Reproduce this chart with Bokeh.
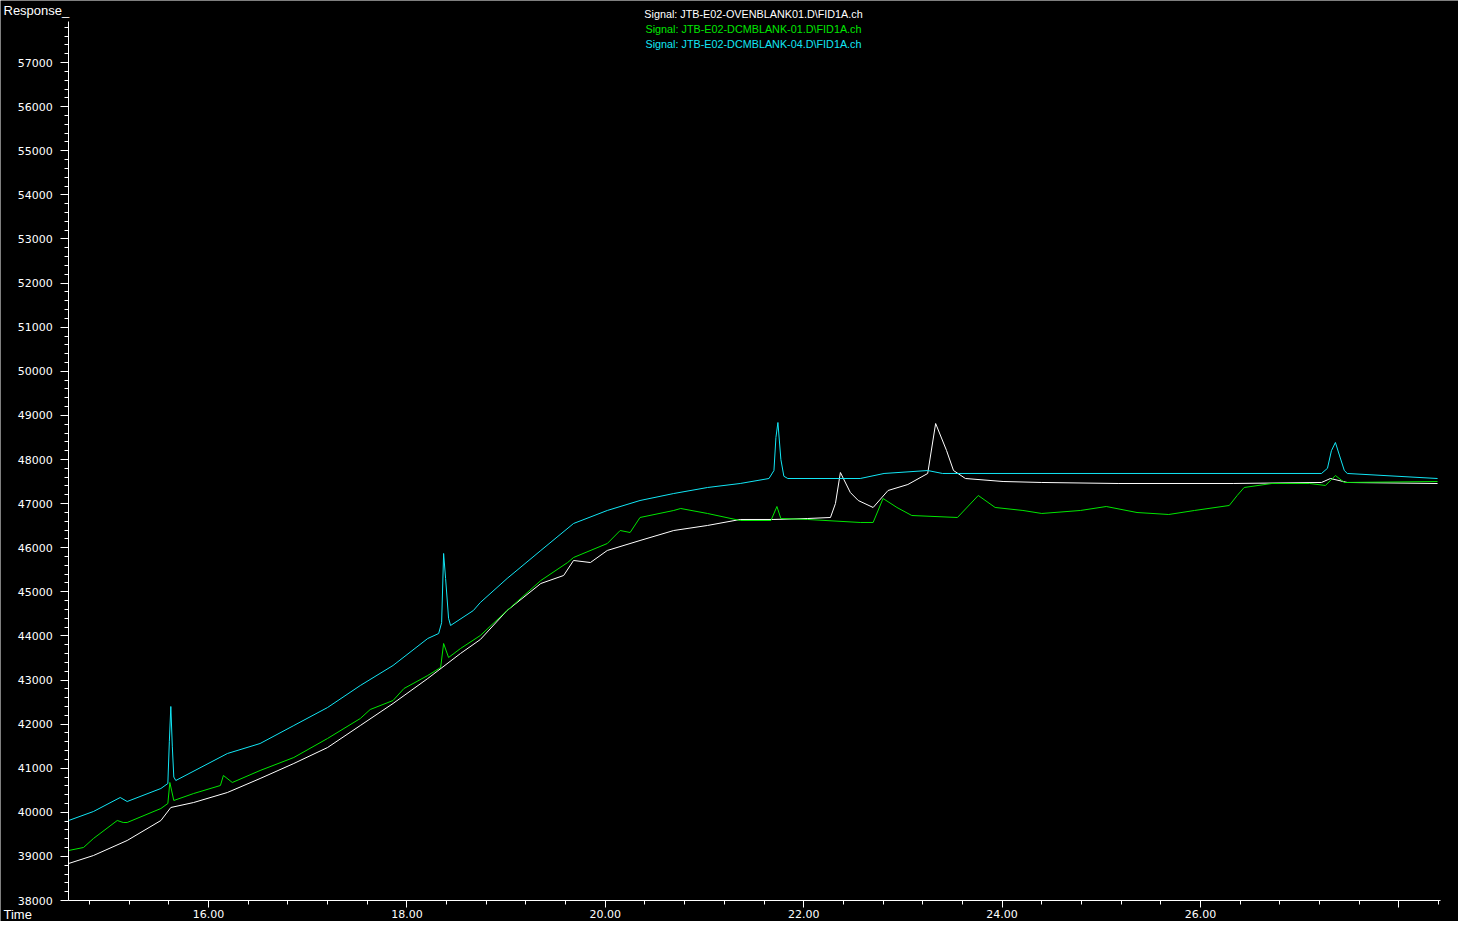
from bokeh.plotting import figure
from bokeh.models import Label, Range1d, SingleIntervalTicker, PrintfTickFormatter
from bokeh.embed import file_html
from bokeh.resources import INLINE

# ---- data (time in minutes, response) ----
legend_labels = [
    "Signal: JTB-E02-OVENBLANK01.D\\FID1A.ch",
    "Signal: JTB-E02-DCMBLANK-01.D\\FID1A.ch",
    "Signal: JTB-E02-DCMBLANK-04.D\\FID1A.ch",
]
series_colors = ["#ffffff", "#00e600", "#12e6f5"]

time_oven = [14.59, 14.84, 15.18, 15.52, 15.62, 15.85, 16.19, 16.52, 16.86, 17.20, 17.53, 17.86,
             18.21, 18.54, 18.74, 19.01, 19.35, 19.58, 19.68, 19.85, 20.02, 20.35, 20.69, 21.03,
             21.36, 21.70, 22.04, 22.27, 22.32, 22.37, 22.47, 22.55, 22.70, 22.85, 23.05, 23.25,
             23.33, 23.44, 23.51, 23.63, 24.01, 24.40, 25.17, 26.33, 27.22, 27.31, 27.48, 28.39]
resp_oven = [38839, 39020, 39361, 39814, 40109, 40222, 40449, 40766, 41107, 41469, 41968, 42467,
             43034, 43601, 43918, 44576, 45188, 45370, 45710, 45664, 45937, 46163, 46390, 46504,
             46640, 46640, 46662, 46685, 47002, 47705, 47252, 47070, 46912, 47297, 47433, 47683,
             48816, 48204, 47751, 47569, 47501, 47479, 47456, 47456, 47479, 47569, 47479, 47456]

time_dcm01 = [14.59, 14.74, 14.84, 15.08, 15.14, 15.18, 15.52, 15.59, 15.61, 15.65, 15.85, 16.12,
              16.15, 16.24, 16.52, 16.86, 17.20, 17.53, 17.63, 17.86, 17.97, 18.21, 18.34, 18.37,
              18.42, 18.54, 18.74, 19.01, 19.35, 19.62, 19.68, 20.02, 20.15, 20.25, 20.35, 20.69,
              20.76, 21.03, 21.36, 21.67, 21.73, 21.77, 22.04, 22.57, 22.70, 22.80, 22.94, 23.09,
              23.55, 23.76, 23.93, 24.21, 24.40, 24.79, 25.05, 25.36, 25.68, 25.94, 26.29, 26.37,
              26.44, 26.72, 27.10, 27.26, 27.36, 27.45, 28.39]
resp_dcm01 = [39134, 39202, 39406, 39814, 39769, 39769, 40086, 40200, 40676, 40268, 40426, 40608,
              40835, 40676, 40948, 41243, 41674, 42127, 42331, 42535, 42807, 43102, 43284, 43828,
              43510, 43714, 44009, 44576, 45256, 45664, 45778, 46095, 46390, 46345, 46685, 46844,
              46889, 46776, 46617, 46617, 46934, 46662, 46640, 46572, 46572, 47116, 46912, 46730,
              46685, 47184, 46912, 46844, 46776, 46844, 46934, 46798, 46753, 46844, 46957, 47184,
              47365, 47456, 47456, 47411, 47637, 47479, 47501]

time_dcm04 = [14.59, 14.84, 15.11, 15.18, 15.52, 15.59, 15.605, 15.62, 15.635, 15.65, 15.67, 16.19,
              16.52, 16.86, 17.20, 17.53, 17.86, 18.21, 18.32, 18.35, 18.37, 18.39, 18.42, 18.44,
              18.67, 18.74, 19.01, 19.35, 19.68, 20.02, 20.35, 20.69, 21.03, 21.36, 21.65, 21.70,
              21.72, 21.74, 21.77, 21.80, 21.84, 22.57, 22.81, 23.25, 23.40, 27.22, 27.28, 27.32,
              27.36, 27.40, 27.45, 27.48, 28.39]
resp_dcm04 = [39814, 40018, 40336, 40245, 40540, 40653, 41600, 42399, 41500, 40800, 40721, 41333,
              41560, 41968, 42376, 42875, 43329, 43941, 44054, 44300, 45869, 45300, 44400, 44236,
              44576, 44757, 45302, 45937, 46549, 46844, 47070, 47229, 47365, 47456, 47569, 47750,
              48500, 48839, 48000, 47620, 47569, 47569, 47683, 47750, 47683, 47683, 47800, 48200,
              48386, 48100, 47750, 47683, 47569]

# axis extents (data units) and visible ranges
time_axis = (14.59, 28.42)
resp_axis = (38000, 57930)

W, H = 1458, 921
p = figure(width=W, height=H, output_backend="svg", toolbar_location=None, title=None,
           x_range=Range1d(13.903, 28.601), y_range=Range1d(37524, 58408),
           background_fill_color="black", border_fill_color="black",
           min_border_left=0, min_border_right=0, min_border_top=0, min_border_bottom=0)
p.outline_line_color = None
p.grid.visible = False

for t, r, c in [(time_oven, resp_oven, series_colors[0]),
                (time_dcm01, resp_dcm01, series_colors[1]),
                (time_dcm04, resp_dcm04, series_colors[2])]:
    p.line(t, r, line_color=c, line_width=1)

xa = p.xaxis[0]
xa.fixed_location = resp_axis[0]
xa.bounds = time_axis
xa.ticker = SingleIntervalTicker(interval=2, num_minor_ticks=5)
xa.formatter = PrintfTickFormatter(format="%.2f")
xa.major_label_overrides = {28: ""}
xa.major_tick_out = 7
xa.major_tick_in = 0
xa.minor_tick_out = 4
xa.minor_tick_in = 0
xa.major_label_standoff = 2

ya = p.yaxis[0]
ya.fixed_location = time_axis[0]
ya.bounds = resp_axis
ya.ticker = SingleIntervalTicker(interval=1000, num_minor_ticks=5)
ya.formatter = PrintfTickFormatter(format="%d")
ya.major_tick_out = 8
ya.major_tick_in = 0
ya.minor_tick_out = 4
ya.minor_tick_in = 0
ya.major_label_standoff = 8

for ax in (xa, ya):
    ax.axis_line_color = "white"
    ax.major_tick_line_color = "white"
    ax.minor_tick_line_color = "white"
    ax.major_label_text_color = "white"
    ax.major_label_text_font = "DejaVu Sans"
    ax.major_label_text_font_size = "11px"

# axis titles
p.add_layout(Label(x=3, y=H - 10, x_units="screen", y_units="screen", text="Response_",
                   text_color="white", text_font="Liberation Sans", text_font_size="13px",
                   text_baseline="alphabetic", text_align="left"))
p.add_layout(Label(x=3, y=H - 914, x_units="screen", y_units="screen", text="Time",
                   text_color="white", text_font="Liberation Sans", text_font_size="13px",
                   text_baseline="alphabetic", text_align="left"))

# signal legend
for i, (txt, c) in enumerate(zip(legend_labels, series_colors)):
    p.add_layout(Label(x=753, y=H - 13 - 15 * i, x_units="screen", y_units="screen", text=txt,
                       text_color=c, text_font="Liberation Sans", text_font_size="10.8px",
                       text_baseline="alphabetic", text_align="center"))

open("out.html", "w").write(file_html(p, INLINE))
